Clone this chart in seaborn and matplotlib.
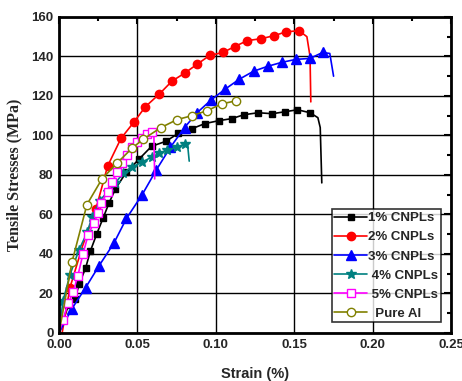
import matplotlib
matplotlib.use("Agg")
import matplotlib.pyplot as plt
import seaborn as sns
import pandas as pd

sns.set_theme(style="white")
plt.rcParams['font.family'] = ['Liberation Sans', 'DejaVu Sans']

# ---- data (strain, stress) ----
labels = ["1% CNPLs", "2% CNPLs", "3% CNPLs", " 4% CNPLs", " 5% CNPLs", "  Pure Al"]

x1 = [0.000, 0.006, 0.010, 0.013, 0.017, 0.020, 0.024, 0.028, 0.032, 0.036, 0.043, 0.051, 0.059, 0.068, 0.076, 0.085,
      0.093, 0.102, 0.110, 0.118, 0.127, 0.136, 0.144, 0.152, 0.160, 0.165, 0.1665, 0.1675]
y1 = [0, 14, 17, 25, 33, 41.5, 50, 58, 66, 73, 81.5, 88, 94.5, 97, 101, 103.5, 106, 107.5, 108.5, 110.5, 111.5, 111, 112, 113,
      111.5, 109, 104, 76]
mk1 = list(range(1, 25))

x2 = [0.002, 0.007, 0.015, 0.0236, 0.031, 0.0395, 0.048, 0.055, 0.064, 0.072, 0.080, 0.088, 0.096, 0.1045, 0.112,
      0.120, 0.129, 0.137, 0.145, 0.153, 0.158, 0.160, 0.1605]
y2 = [0, 23, 44, 63, 84.5, 98.5, 107, 114.5, 121, 127.5, 131.5, 136, 140.5, 142, 145, 148, 149, 150.5, 152.5, 153,
      150, 140, 117]
mk2 = [1] + list(range(3, 20))

x3 = [0.000, 0.008, 0.017, 0.0255, 0.035, 0.043, 0.053, 0.062, 0.071, 0.080, 0.088, 0.097, 0.106, 0.115, 0.124, 0.133,
      0.142, 0.151, 0.160, 0.168, 0.1726, 0.175]
y3 = [0, 12, 23, 34, 45.5, 58, 70, 82.5, 94, 104, 111.5, 118, 123.5, 128.5, 132.5, 135, 137, 138.5, 139, 142,
      141.5, 130]
mk3 = list(range(1, 20))

x4 = [0.000, 0.0025, 0.007, 0.0127, 0.018, 0.021, 0.026, 0.031, 0.036, 0.041, 0.0465, 0.053, 0.059, 0.064, 0.069,
      0.075, 0.080, 0.082, 0.083]
y4 = [0, 16, 29.5, 42, 51, 58.5, 67, 71.5, 76, 81, 84, 86.5, 89, 91, 92.5, 94, 95.5, 95, 87]
mk4 = list(range(1, 17))

x5 = [0.000, 0.0025, 0.0057, 0.009, 0.012, 0.0153, 0.0185, 0.022, 0.025, 0.027, 0.031, 0.034, 0.037, 0.040, 0.0433,
      0.0465, 0.050, 0.053, 0.056, 0.059, 0.0605, 0.061]
y5 = [0, 6.5, 15, 20.5, 29, 40, 49.5, 55.5, 60.5, 66, 71.5, 76.5, 81.5, 86, 90, 94, 96.5, 98.5, 100.5, 101.5, 99, 78]
mk5 = list(range(1, 20))

x6 = [0.000, 0.0083, 0.0178, 0.0274, 0.037, 0.0465, 0.0535, 0.065, 0.0752, 0.0847, 0.0943, 0.1038, 0.1127]
y6 = [0, 36, 65, 78, 86, 93.5, 98, 104, 108, 110, 112.5, 116, 117.5]
mk6 = list(range(1, 13))

xs = [x1, x2, x3, x4, x5, x6]
ys = [y1, y2, y3, y4, y5, y6]
marks = [mk1, mk2, mk3, mk4, mk5, mk6]
colors = ["#000000", "#ff0000", "#0000ff", "#008080", "#ff00ff", "#808000"]
markers = ["s", "o", "^", "*", "s", "o"]
mfcs = ["#000000", "#ff0000", "#0000ff", "#008080", "white", "white"]
msizes = [5, 6, 6.5, 7.5, 5.5, 6]

fig = plt.figure(figsize=(4.62, 3.81), dpi=100)
ax = fig.add_axes([0.1277, 0.126, 0.849, 0.8296])

for i in range(6):
    df = pd.DataFrame({"x": xs[i], "y": ys[i]})
    sns.lineplot(data=df, x="x", y="y", ax=ax, estimator=None, sort=False,
                 color=colors[i], lw=1.2, marker=markers[i], markersize=msizes[i],
                 markerfacecolor=mfcs[i], markeredgecolor=colors[i], markeredgewidth=1.0,
                 markevery=marks[i], label=labels[i])

ax.set_xlim(0, 0.25)
ax.set_ylim(0, 160)
ax.set_xticks([0, 0.05, 0.10, 0.15, 0.20, 0.25])
ax.set_xticklabels(["0.00", "0.05", "0.10", "0.15", "0.20", "0.25"])
ax.set_yticks(range(0, 161, 20))
ax.set_xticks([0.025, 0.075, 0.125, 0.175, 0.225], minor=True)
ax.set_yticks(range(10, 160, 20), minor=True)
ax.grid(True, which="major", color="black", lw=1.0)
ax.set_axisbelow(True)
for s in ax.spines.values():
    s.set_color("black")
    s.set_linewidth(2.0)
ax.tick_params(which="both", direction="in", top=True, right=True, color="black", width=1.5)
ax.tick_params(which="major", length=5, labelsize=9.5, pad=4)
ax.tick_params(which="minor", length=3)
for t in ax.get_xticklabels() + ax.get_yticklabels():
    t.set_fontweight("bold")

ax.set_xlabel("Strain (%)", fontsize=10.5, fontweight="bold", labelpad=12)
ax.set_ylabel("Tensile Stresses (MPa)", fontsize=11.5, fontweight="bold",
              family=["Liberation Serif", "DejaVu Serif"], labelpad=6)

leg = ax.legend(loc="lower right", frameon=True, fancybox=False, edgecolor="black",
                prop={"weight": "bold", "size": 9.5}, handlelength=2.5, handletextpad=0.05,
                borderpad=0.2, labelspacing=0.52, borderaxespad=0.8, numpoints=1)
leg.get_frame().set_linewidth(1.2)
for h in leg.legend_handles:
    h.set_markevery([1])

fig.savefig("out.png", dpi=100)
